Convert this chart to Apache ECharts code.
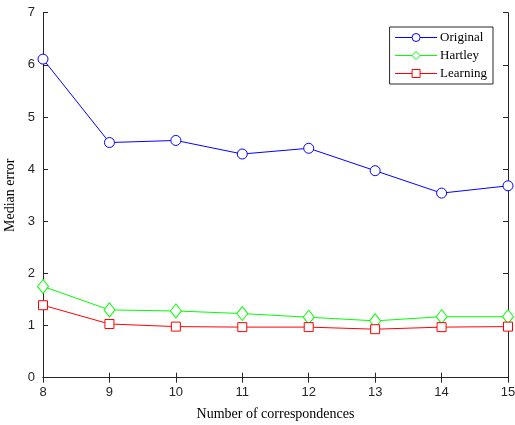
<!DOCTYPE html>
<html><head><meta charset="utf-8">
<script src="https://cdn.jsdelivr.net/npm/echarts@6/dist/echarts.min.js"></script>
<style>html,body{margin:0;padding:0;background:#fff}#c{width:515px;height:425px}</style>
</head><body><div id="c"></div>
<script>
var categories = [8, 9, 10, 11, 12, 13, 14, 15];
var original = [6.11, 4.51, 4.55, 4.29, 4.40, 3.97, 3.54, 3.68];
var hartley  = [1.75, 1.30, 1.28, 1.23, 1.16, 1.09, 1.17, 1.17];
var learning = [1.39, 1.03, 0.98, 0.97, 0.97, 0.93, 0.97, 0.98];
var yTicks = [0, 1, 2, 3, 4, 5, 6, 7];

function pts(v){ return categories.map(function(c,i){ return [c, v[i]]; }); }
var chart = echarts.init(document.getElementById('c'));
var tickStyle = {show:true, inside:true, length:5, lineStyle:{color:'#262626', width:1}};
var lineAx = {show:true, lineStyle:{color:'#262626', width:1}};
var sans = "'Liberation Sans', Arial, Helvetica, sans-serif";
var serif = "'Liberation Serif', 'Times New Roman', serif";
var labelFont = {color:'#262626', fontFamily:sans, fontSize:13};
chart.setOption({
  animation:false,
  grid:{left:43, right:7, top:12.7, bottom:47.3, containLabel:false, outerBoundsMode:'none'},
  legend:{
    show:true, right:22, top:27, orient:'vertical',
    backgroundColor:'#fff', borderColor:'#262626', borderWidth:1,
    padding:[4,6,4,5], itemGap:5, itemWidth:42, itemHeight:10,
    lineStyle:{width:1},
    itemStyle:{borderWidth:1, color:'#fff'},
    textStyle:{fontFamily:serif, fontSize:13, color:'#000', padding:[0,0,0,-2]},
    data:['Original','Hartley','Learning']
  },
  xAxis:[{
    type:'value', min:8, max:15, interval:1, position:'bottom',
    axisLine:lineAx, axisTick:tickStyle, splitLine:{show:false},
    axisLabel:Object.assign({margin:8}, labelFont),
    name:'Number of correspondences', nameLocation:'middle', nameGap:30,
    nameTextStyle:{fontFamily:serif, fontSize:14, color:'#000'}
  },{
    type:'value', min:8, max:15, interval:1, position:'top',
    axisLine:lineAx, axisTick:tickStyle, splitLine:{show:false}, axisLabel:{show:false}
  }],
  yAxis:[{
    type:'value', min:0, max:7, interval:1, position:'left',
    axisLine:lineAx, axisTick:tickStyle, splitLine:{show:false},
    axisLabel:Object.assign({margin:8, formatter:function(v){return yTicks.indexOf(v)>=0?String(v):'';}}, labelFont),
    name:'Median error', nameLocation:'middle', nameGap:24,
    nameTextStyle:{fontFamily:serif, fontSize:14, color:'#000'}
  },{
    type:'value', min:0, max:7, interval:1, position:'right',
    axisLine:lineAx, axisTick:tickStyle, splitLine:{show:false}, axisLabel:{show:false}
  }],
  series:[
    {name:'Original', type:'line', data:pts(original), symbol:'circle', symbolSize:10,
     showAllSymbol:true, lineStyle:{color:'#0000ff', width:1}, itemStyle:{color:'#fff', borderColor:'#0000ff', borderWidth:1}, color:'#0000ff'},
    {name:'Hartley', type:'line', data:pts(hartley), symbol:'diamond', symbolSize:[11,14],
     lineStyle:{color:'#00ff00', width:1}, itemStyle:{color:'#fff', borderColor:'#00ff00', borderWidth:1}, color:'#00ff00'},
    {name:'Learning', type:'line', data:pts(learning), symbol:'rect', symbolSize:9,
     lineStyle:{color:'#ff0000', width:1}, itemStyle:{color:'#fff', borderColor:'#ff0000', borderWidth:1}, color:'#ff0000'}
  ]
});
</script></body></html>
